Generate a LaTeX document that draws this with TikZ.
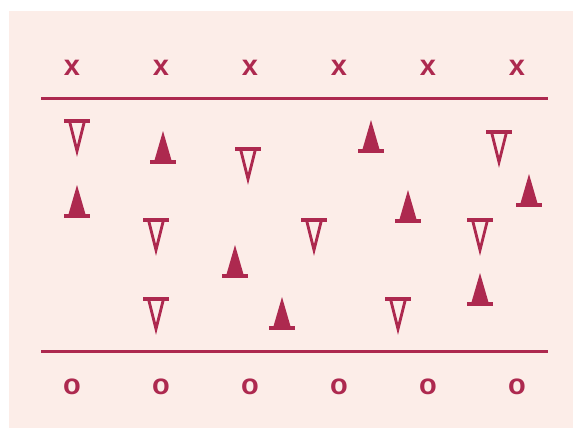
\documentclass[tikz,border=0pt]{standalone}
\usepackage{fontspec}
\setmainfont{Liberation Sans}
\usepackage{tikz}
\usetikzlibrary{positioning}

\definecolor{crimson}{RGB}{173,41,79}
\definecolor{blush}{RGB}{252,237,232}

\begin{document}
\begin{tikzpicture}[
  x=1pt, y=-1pt,
  player/.style={text=crimson, font=\fontsize{29}{29}\selectfont\bfseries, inner sep=0pt, anchor=base},
  yardline/.style={draw=crimson, line width=3pt},
  bar/.style={draw=crimson, line width=3.4pt},
  cone/.style={fill=crimson},
  opencone/.style={draw=crimson, line width=2.8pt, line join=miter}
]

\useasboundingbox (0,0) rectangle (573,428);
\fill[blush] (9,11) rectangle (573,428);

% the two lines
\coordinate (tl) at (41,98);
\coordinate (tr) at (548,98);
\coordinate (bl) at (41,351);
\coordinate (br) at (548,351);
\draw[yardline] (tl) -- (tr);
\draw[yardline] (bl) -- (br);

% x row and o row
\foreach \px [count=\i] in {72,161,250,339,428,517} {
  \node[player] (x\i) at (\px,76) {x};
  \node[player] (o\i) at (\px,394) {o};
}

% filled cones (tip up, bar at the base)
\foreach \cx/\by in {163/162, 77/216, 371/151, 235/276, 408/221, 529/205, 480/304, 282/328} {
  \fill[cone] (\cx-9,\by) -- (\cx,\by-31) -- (\cx+9,\by) -- cycle;
  \draw[bar] (\cx-13,\by) -- (\cx+13,\by);
}

% open cones (tip down, bar on top)
\foreach \cx/\ty in {77/121, 248/149, 156/220, 314/220, 499/132, 480/220, 156/299, 398/299} {
  \draw[opencone] (\cx-7.5,\ty) -- (\cx,\ty+30) -- (\cx+7.5,\ty) -- cycle;
  \draw[bar] (\cx-13,\ty) -- (\cx+13,\ty);
}

\end{tikzpicture}
\end{document}
